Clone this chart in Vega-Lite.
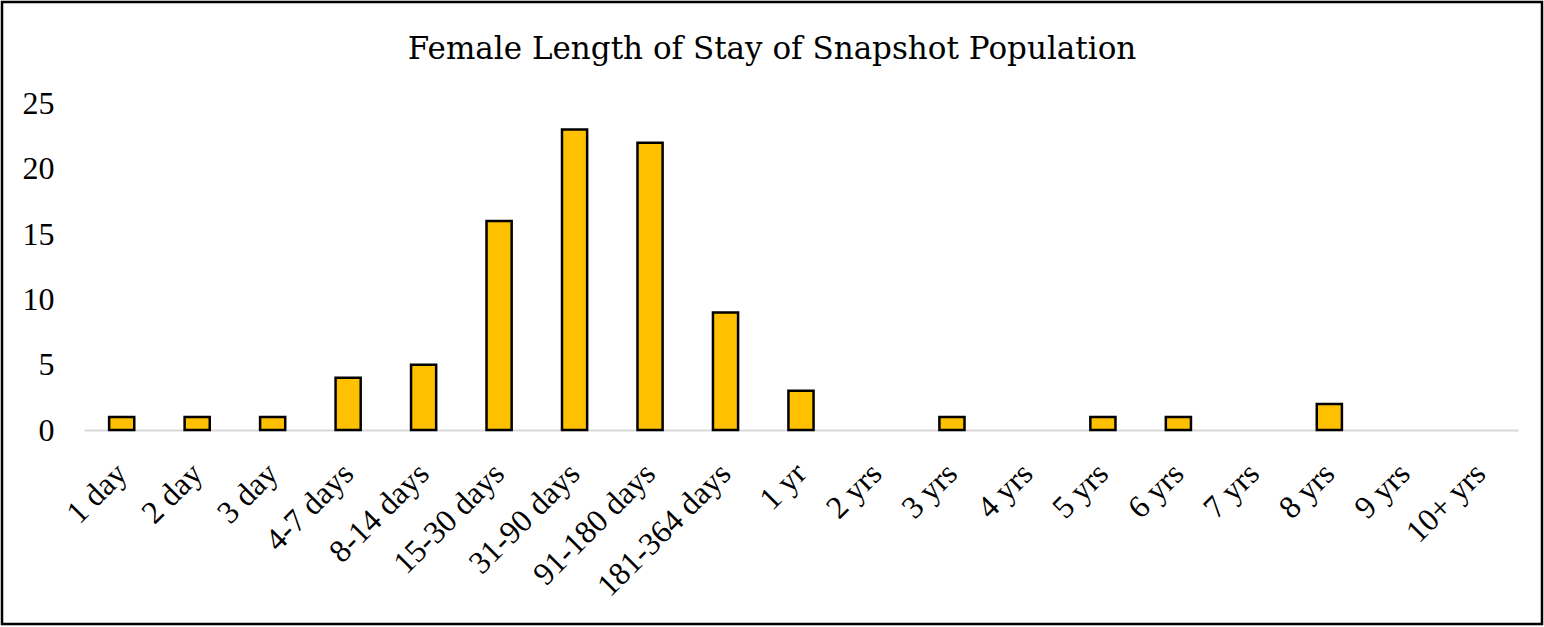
{
  "$schema": "https://vega.github.io/schema/vega-lite/v6.json",
  "autosize": "none",
  "padding": {"left": 2, "top": 2, "right": 2, "bottom": 2},
  "width": 1540,
  "height": 622,
  "background": "white",
  "title": {
    "text": "Female Length of Stay of Snapshot Population",
    "font": "DejaVu Serif",
    "fontSize": 31,
    "fontWeight": "normal",
    "color": "black",
    "frame": "group",
    "anchor": "middle",
    "baseline": "alphabetic",
    "offset": 0,
    "dy": 88
  },
  "data": {
    "values": [
      {"stay": "1 day", "count": 1},
      {"stay": "2 day", "count": 1},
      {"stay": "3 day", "count": 1},
      {"stay": "4-7 days", "count": 4},
      {"stay": "8-14 days", "count": 5},
      {"stay": "15-30 days", "count": 16},
      {"stay": "31-90 days", "count": 23},
      {"stay": "91-180 days", "count": 22},
      {"stay": "181-364 days", "count": 9},
      {"stay": "1 yr", "count": 3},
      {"stay": "2 yrs", "count": 0},
      {"stay": "3 yrs", "count": 1},
      {"stay": "4 yrs", "count": 0},
      {"stay": "5 yrs", "count": 1},
      {"stay": "6 yrs", "count": 1},
      {"stay": "7 yrs", "count": 0},
      {"stay": "8 yrs", "count": 2},
      {"stay": "9 yrs", "count": 0},
      {"stay": "10+ yrs", "count": 0}
    ]
  },
  "mark": {"type": "bar", "fill": "#FFC000", "stroke": "black", "strokeWidth": 2.5},
  "encoding": {
    "x": {
      "field": "stay",
      "type": "nominal",
      "sort": null,
      "scale": {"range": [82, 1516], "paddingInner": 0.667, "paddingOuter": 0.333},
      "axis": {
        "orient": "bottom",
        "offset": -194,
        "title": null,
        "labelAngle": -45,
        "labelAlign": "right",
        "labelBaseline": "middle",
        "labelPadding": 38,
        "ticks": false,
        "domainColor": "#D9D9D9",
        "domainWidth": 2,
        "labelFont": "Liberation Serif",
        "labelFontSize": 32,
        "labelColor": "black",
        "labelOverlap": false,
        "labelLimit": 400
      }
    },
    "y": {
      "field": "count",
      "type": "quantitative",
      "scale": {"domain": [0, 25], "range": [428, 101.5], "nice": false, "zero": true},
      "axis": {
        "title": null,
        "domain": false,
        "ticks": false,
        "grid": false,
        "values": [0, 5, 10, 15, 20, 25],
        "offset": -56,
        "labelPadding": 4,
        "labelFont": "Liberation Serif",
        "labelFontSize": 32,
        "labelColor": "black"
      }
    },
    "strokeOpacity": {"condition": {"test": "datum.count == 0", "value": 0}, "value": 1}
  },
  "config": {"view": {"stroke": "black", "strokeWidth": 2.5}}
}
